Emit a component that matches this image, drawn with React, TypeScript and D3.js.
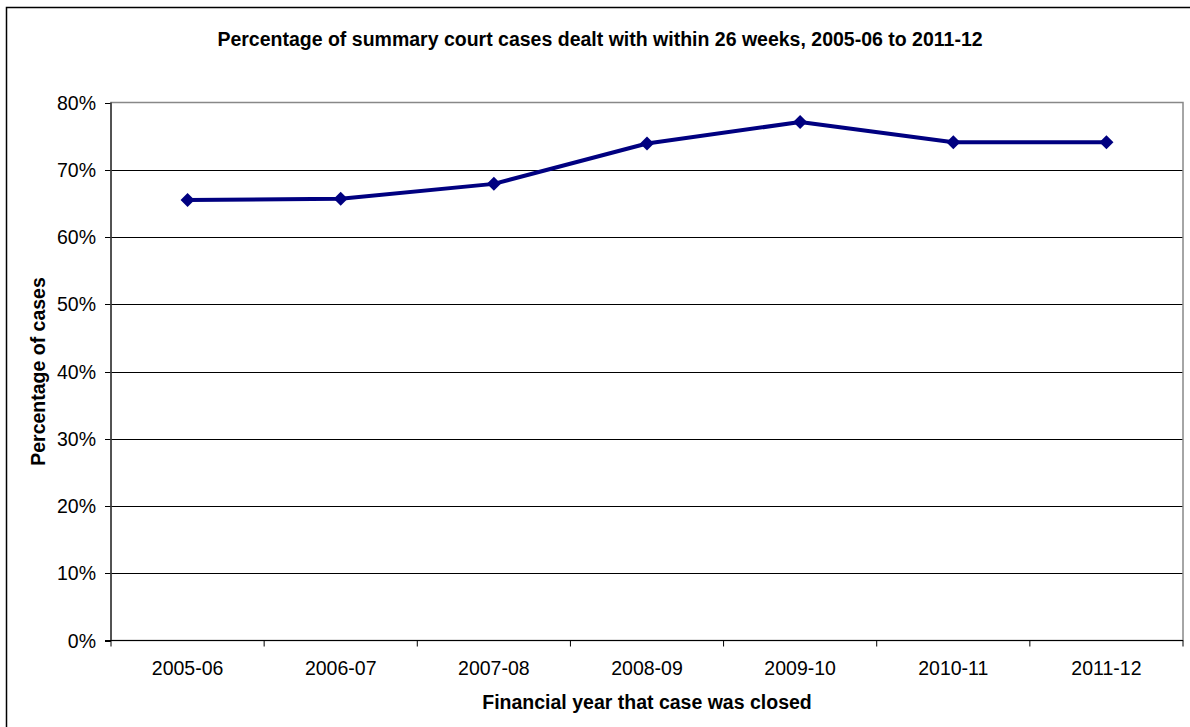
import React from "react";
import * as d3 from "d3";

const categories = ["2005-06", "2006-07", "2007-08", "2008-09", "2009-10", "2010-11", "2011-12"];
const values = [65.5, 65.7, 67.9, 73.9, 77.1, 74.1, 74.1];
const yTicks = [0, 10, 20, 30, 40, 50, 60, 70, 80];

const title = "Percentage of summary court cases dealt with within 26 weeks, 2005-06 to 2011-12";
const xTitle = "Financial year that case was closed";
const yTitle = "Percentage of cases";

export default function App() {
  const W = 1190, H = 727;
  const left = 111, right = 1183, top = 102.5, bottom = 640.5;
  const x = d3.scaleBand<string>().domain(categories).range([left, right]);
  const y = d3.scaleLinear().domain([0, 80]).range([bottom, top]);
  const line = d3.line<number>()
    .x((_, i) => (x(categories[i]) as number) + x.bandwidth() / 2)
    .y((d) => y(d));
  const font = "Arial, 'Liberation Sans', sans-serif";
  const navy = "#000080";
  const ds = 7;
  const fs = 19.5;
  return (
    <svg width={W} height={H} style={{ position: "absolute", left: 0, top: 0 }} fontFamily={font}>
      <rect x={0} y={0} width={W} height={H} fill="#fff" />
      <rect x={6.5} y={7.5} width={1200} height={740} fill="#fff" stroke="#000" strokeWidth={1.5} />
      <text x={600} y={46} textAnchor="middle" fontWeight="bold" fontSize={fs} fill="#000">{title}</text>
      {yTicks.map((t) => (
        <g key={t}>
          {t > 0 && t < 80 && (
            <line x1={left} x2={right} y1={Math.round(y(t)) + 0.5} y2={Math.round(y(t)) + 0.5} stroke="#000" strokeWidth={1} />
          )}
          <line x1={left - 6} x2={left} y1={Math.round(y(t)) + 0.5} y2={Math.round(y(t)) + 0.5} stroke="#000" />
          <text x={96} y={y(t) + 7} textAnchor="end" fontSize={fs} fill="#000">{t}%</text>
        </g>
      ))}
      <rect x={left} y={top} width={right - left} height={bottom - top} fill="none" stroke="#888" strokeWidth={1.5} />
      <line x1={left} x2={left} y1={top} y2={bottom} stroke="#000" />
      <line x1={left - 6} x2={right} y1={bottom} y2={bottom} stroke="#000" />
      {categories.map((c, i) => (
        <g key={c}>
          <line x1={(x(c) as number)} x2={(x(c) as number)} y1={bottom} y2={bottom + 6} stroke="#000" />
          {i === categories.length - 1 && (
            <line x1={right} x2={right} y1={bottom} y2={bottom + 6} stroke="#000" />
          )}
          <text x={(x(c) as number) + x.bandwidth() / 2} y={675} textAnchor="middle" fontSize={fs} fill="#000">{c}</text>
        </g>
      ))}
      <path d={line(values) || ""} fill="none" stroke={navy} strokeWidth={4} strokeLinejoin="round" />
      {values.map((v, i) => {
        const cx = (x(categories[i]) as number) + x.bandwidth() / 2;
        const cy = y(v);
        return (
          <path key={i} d={`M${cx},${cy - ds}L${cx + ds},${cy}L${cx},${cy + ds}L${cx - ds},${cy}Z`} fill={navy} />
        );
      })}
      <text x={(left + right) / 2} y={709} textAnchor="middle" fontWeight="bold" fontSize={fs} fill="#000">{xTitle}</text>
      <text transform={`translate(45,${(top + bottom) / 2}) rotate(-90)`} textAnchor="middle" fontWeight="bold" fontSize={fs} fill="#000">{yTitle}</text>
    </svg>
  );
}
